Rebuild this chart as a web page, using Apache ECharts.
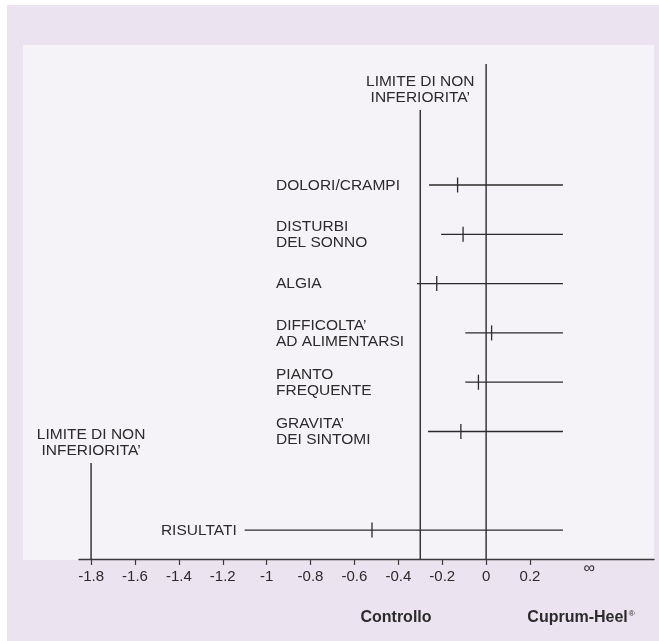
<!DOCTYPE html>
<html>
<head>
<meta charset="utf-8">
<script src="https://cdn.jsdelivr.net/npm/echarts@6/dist/echarts.min.js"></script>
<style>html,body{margin:0;padding:0;background:#fff}#c{width:659px;height:641px}</style>
</head>
<body>
<div id="c"></div>
<script>
// ---- data ----
const categories = ['DOLORI/CRAMPI', 'DISTURBI\nDEL SONNO', 'ALGIA', 'DIFFICOLTA’\nAD ALIMENTARSI', 'PIANTO\nFREQUENTE', 'GRAVITA’\nDEI SINTOMI', 'RISULTATI'];
const rowOrder = [0, 1, 2, 3, 4, 5, 7];
const estimates = [-0.13, -0.105, -0.225, 0.025, -0.035, -0.115, -0.52];
const ciLow = [-0.26, -0.205, -0.315, -0.095, -0.095, -0.265, -1.10];
const ciHigh = [0.35, 0.35, 0.35, 0.35, 0.35, 0.35, 0.35];
const tickValues = [-1.8, -1.6, -1.4, -1.2, -1, -0.8, -0.6, -0.4, -0.2, 0, 0.2];
const infinityValue = 0.47;
const limitValues = [-0.3, -1.8];
const limitText = 'LIMITE DI NON\nINFERIORITA’';
const zeroValue = 0;
const leftGroupLabel = 'Controllo';
const rightGroupLabel = 'Cuprum-Heel';

// ---- layout ----
const X_MIN = -1.855, X_MAX = 0.765;
const Y_MIN = -2.454, Y_MAX = 7.586;
const LIMIT_TOPS = [-1.52, 5.64];
const LABEL_X = 276;
const FONT = '"Liberation Sans", Arial, Helvetica, sans-serif';
const INK = '#2b2b2b';

const chart = echarts.init(document.getElementById('c'), null, {renderer: 'canvas'});

const forestData = rowOrder.map((r, i) => [estimates[i], ciLow[i], ciHigh[i], r, i]);
const refData = [[zeroValue, Y_MIN, 0]].concat(limitValues.map((v, i) => [v, LIMIT_TOPS[i], 1]));

function renderForest(params, api) {
  const row = api.value(3);
  const est = api.coord([api.value(0), row]);
  const lo = api.coord([api.value(1), row]);
  const hi = api.coord([api.value(2), row]);
  const name = categories[api.value(4)];
  const rightAligned = lo[0] < LABEL_X;
  return {
    type: 'group',
    children: [
      {type: 'line', shape: {x1: lo[0], y1: lo[1], x2: hi[0], y2: hi[1]}, style: {stroke: INK, lineWidth: 1.3}},
      {type: 'line', shape: {x1: est[0], y1: est[1] - 7.5, x2: est[0], y2: est[1] + 7.5}, style: {stroke: INK, lineWidth: 1.3}},
      {type: 'text', style: {
        x: rightAligned ? lo[0] - 8 : LABEL_X, y: est[1] + 0.5,
        text: name, fill: INK, fontSize: 15.5, fontFamily: FONT, lineHeight: 16,
        align: rightAligned ? 'right' : 'left', verticalAlign: 'middle'
      }}
    ]
  };
}

function renderRef(params, api) {
  const top = api.coord([api.value(0), api.value(1)]);
  const bottom = api.coord([api.value(0), Y_MAX]);
  const children = [
    {type: 'line', shape: {x1: top[0], y1: top[1], x2: bottom[0], y2: bottom[1]}, style: {stroke: INK, lineWidth: 1.4}}
  ];
  if (api.value(2) === 1) {
    children.push({type: 'text', style: {
      x: top[0], y: top[1] - 4, text: limitText, fill: INK, fontSize: 15.5, fontFamily: FONT,
      lineHeight: 16, align: 'center', verticalAlign: 'bottom'
    }});
  }
  return {type: 'group', children};
}

function renderInf(params, api) {
  const p = api.coord([api.value(0), Y_MAX]);
  return {type: 'text', style: {x: p[0], y: p[1] + 10, text: '∞', fill: INK, fontSize: 16, fontFamily: FONT, align: 'center', verticalAlign: 'middle'}};
}

chart.setOption({
  backgroundColor: '#ffffff',
  animation: false,
  graphic: [
    {type: 'rect', z: -10, shape: {x: 7, y: 5, width: 652, height: 636}, style: {fill: '#ebe3ef'}},
    {type: 'rect', z: -9, shape: {x: 23, y: 45, width: 631, height: 515}, style: {fill: '#f5f2f8'}},
    {type: 'text', z: 10, style: {x: 396, y: 618, text: leftGroupLabel, fill: INK, fontSize: 16, fontWeight: 'bold', fontFamily: FONT, align: 'center', verticalAlign: 'middle'}},
    {type: 'text', z: 10, style: {x: 581, y: 618, text: '{a|' + rightGroupLabel + '}{r|®}', fill: INK, fontFamily: FONT, align: 'center', verticalAlign: 'middle',
      rich: {a: {fontSize: 16, fontWeight: 'bold', fontFamily: FONT, fill: INK}, r: {fontSize: 8, fontFamily: FONT, fill: INK, verticalAlign: 'top', padding: [0, 0, 8, 1]}}}}
  ],
  grid: {left: 79, right: 5, top: 64, bottom: 82, containLabel: false},
  xAxis: {
    type: 'value', min: X_MIN, max: X_MAX,
    splitLine: {show: false},
    axisLine: {show: true, onZero: false, lineStyle: {color: '#3a3a3a', width: 1.3}},
    axisTick: {show: true, customValues: tickValues, length: 6, lineStyle: {color: '#3a3a3a', width: 1.2}},
    axisLabel: {show: true, customValues: tickValues, margin: 10, color: INK, fontSize: 15, fontFamily: FONT,
      formatter: v => String(v)}
  },
  yAxis: {type: 'value', inverse: true, min: Y_MIN, max: Y_MAX, show: false, splitLine: {show: false}},
  series: [
    {type: 'custom', name: 'refs', renderItem: renderRef, data: refData, encode: {x: 0, y: 1}, clip: false, silent: true, z: 3},
    {type: 'custom', name: 'forest', renderItem: renderForest, data: forestData, encode: {x: [0, 1, 2], y: 3}, clip: false, silent: true, z: 4},
    {type: 'custom', name: 'inf', renderItem: renderInf, data: [[infinityValue]], encode: {x: 0}, clip: false, silent: true, z: 4}
  ]
});
</script>
</body>
</html>
